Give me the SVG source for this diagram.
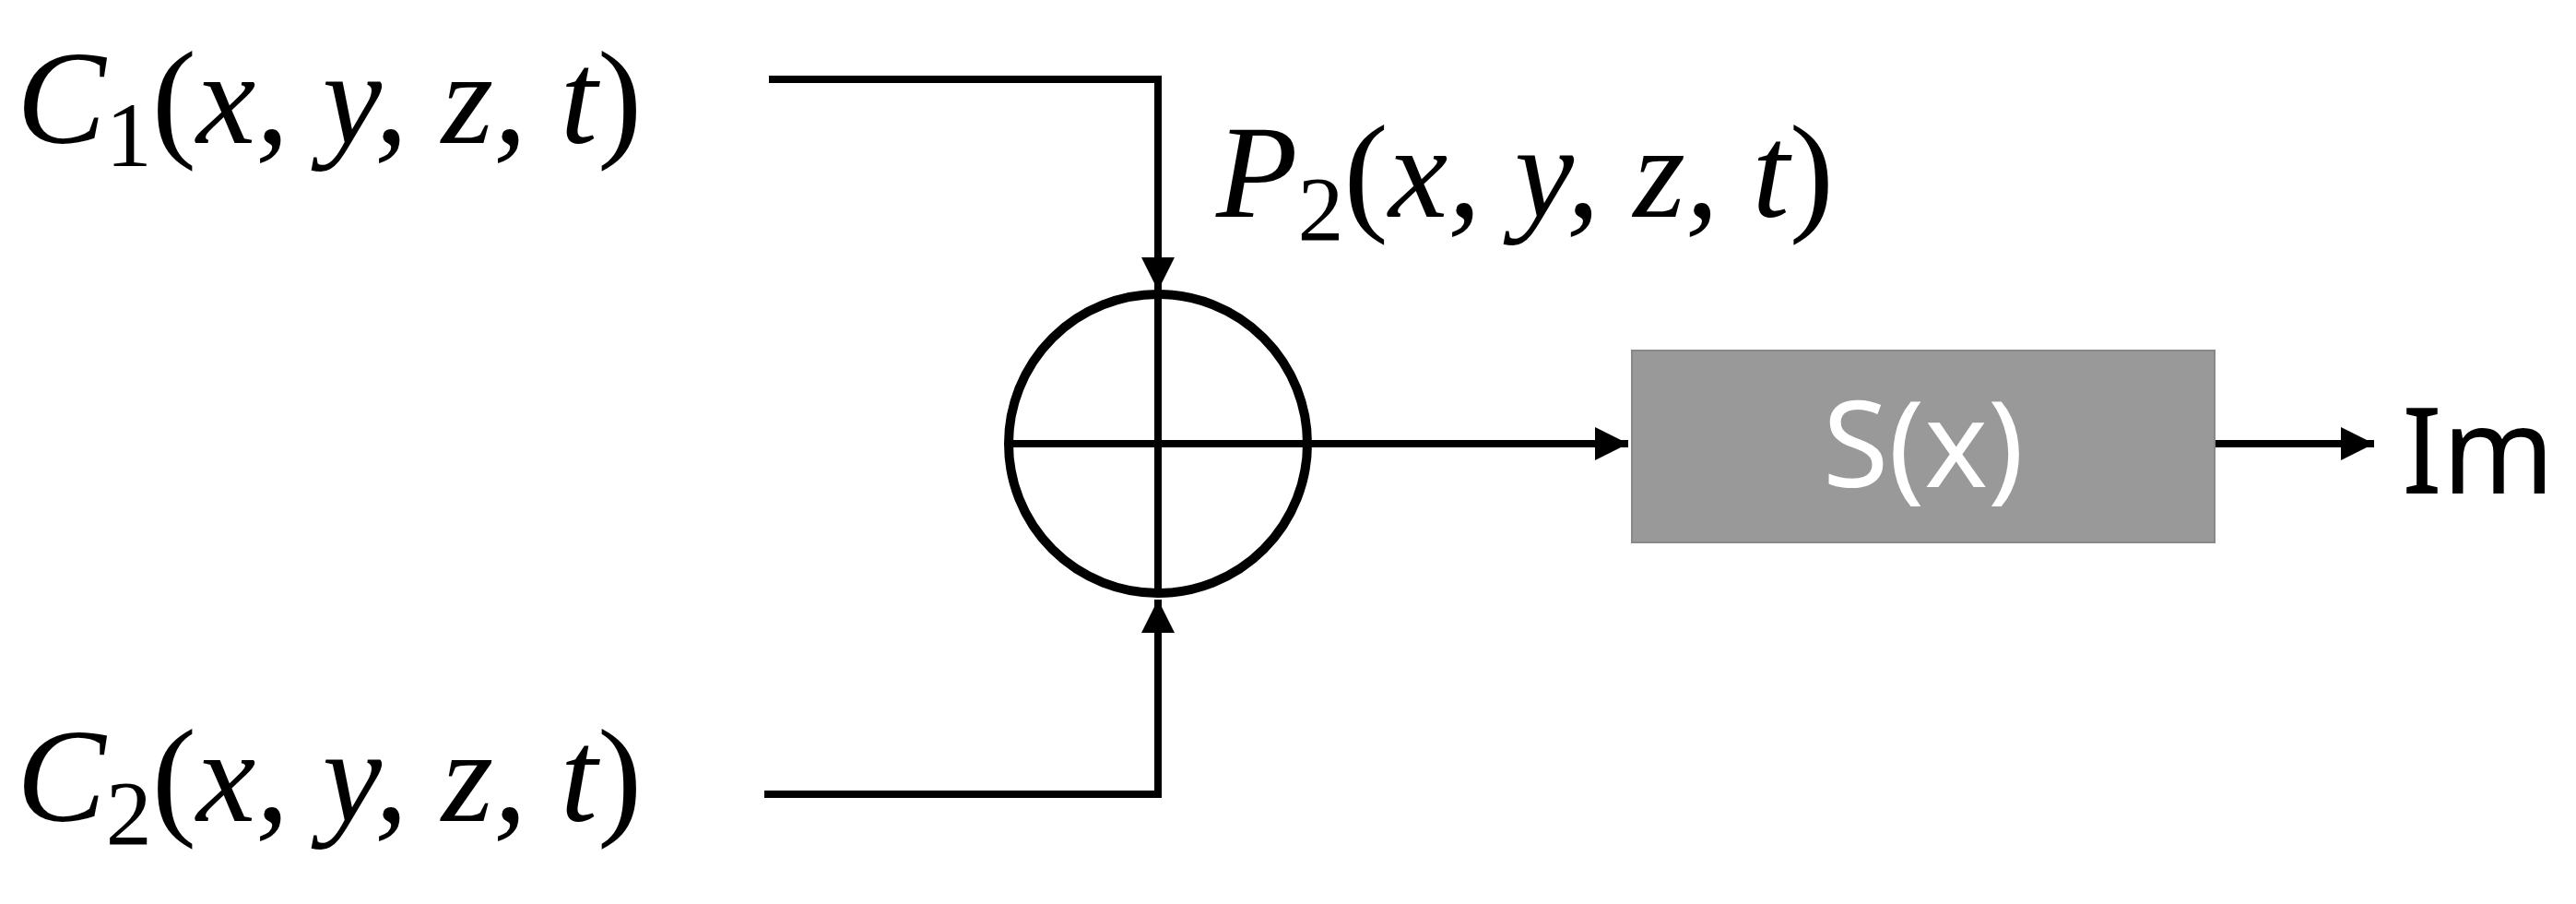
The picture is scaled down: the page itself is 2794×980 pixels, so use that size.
<svg xmlns="http://www.w3.org/2000/svg" width="2794" height="980" viewBox="0 0 2794 980">
<style>
.m{font-family:"Liberation Serif",serif;font-style:italic;font-size:145px;fill:#000}
.s{font-style:normal;font-size:100px}
.p{font-style:normal}
.ln{stroke:#000;stroke-width:8;fill:none}
.sf{font-family:"Noto Sans","Liberation Sans",sans-serif;font-size:130px}
</style>
<defs><marker id="a" viewBox="0 0 10 10" refX="10" refY="5" markerWidth="4.5" markerHeight="4.5" orient="auto" markerUnits="strokeWidth"><path d="M0,0L10,5L0,10z" fill="#000"/></marker></defs>
<rect width="2794" height="980" fill="#fff"/>
<g id="connectors">
<path class="ln" d="M834,86H1256V315" marker-end="url(#a)"/>
<path class="ln" d="M829,861H1256V650" marker-end="url(#a)"/>
<path class="ln" d="M1412,481H1766" marker-end="url(#a)"/>
<path class="ln" d="M2402,481H2575" marker-end="url(#a)"/>
</g>
<g id="sum"><circle cx="1256" cy="481" r="162" stroke="#000" stroke-width="10" fill="none"/><path class="ln" d="M1092,481H1420M1256,317V645"/></g>
<g id="c1"><text class="m" x="18" y="155">C<tspan class="s" dy="25">1</tspan><tspan dy="-25" class="p">(</tspan>x, y, z, t<tspan class="p">)</tspan></text></g>
<g id="c2"><text class="m" x="18" y="890">C<tspan class="s" dy="25">2</tspan><tspan dy="-25" class="p">(</tspan>x, y, z, t<tspan class="p">)</tspan></text></g>
<g id="p2"><text class="m" x="1319" y="235">P<tspan class="s" dy="25">2</tspan><tspan dy="-25" class="p">(</tspan>x, y, z, t<tspan class="p">)</tspan></text></g>
<g id="s"><rect x="1770" y="380" width="632" height="208" fill="#999" stroke="#888" stroke-width="2"/><text class="sf" x="2086" y="528" text-anchor="middle" fill="#fff">S(x)</text></g>
<g id="im"><text class="sf" x="2605" y="535" font-size="150" fill="#000">Im</text></g>
</svg>
